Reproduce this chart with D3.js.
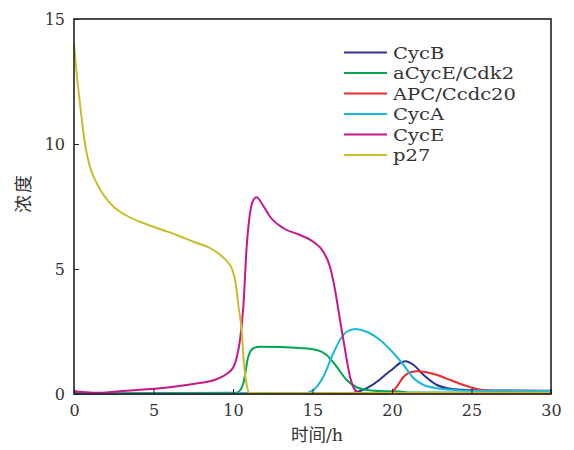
<!DOCTYPE html>
<html>
<head>
<meta charset="utf-8">
<script src="https://cdn.jsdelivr.net/npm/d3@7"></script>
<style>
  html, body { margin: 0; padding: 0; background: #fff; }
  svg { display: block; }
</style>
</head>
<body>
<svg id="chart" width="574" height="450"></svg>
<script>
// Series: [time (h), concentration]
const cycB = [[0,0.01],[17.3,0.02],[17.9,0.1],[18.41,0.23],[19.24,0.58],[19.6,0.78],[20.1,1.03],[20.5,1.24],[20.85,1.31],[21.36,1.16],[21.99,0.76],[22.83,0.36],[23.67,0.21],[24.72,0.16],[27,0.14],[30,0.13]];
const aCycECdk2 = [[0,0.02],[10.2,0.05],[10.45,0.15],[10.65,0.43],[10.96,1.49],[11.28,1.83],[11.7,1.89],[13,1.88],[14.2,1.84],[15.26,1.76],[15.89,1.56],[16.52,1.09],[17.15,0.56],[17.78,0.27],[18.41,0.16],[19.25,0.12],[20.5,0.1],[21,0.06],[30,0.05]];
const apcCdc20 = [[0,0.12],[0.5,0.05],[1,0.01],[19.8,0.01],[19.95,0.06],[20.3,0.29],[20.73,0.69],[21.15,0.87],[21.6,0.91],[21.99,0.89],[22.83,0.76],[23.67,0.56],[24.5,0.36],[25.34,0.2],[26.2,0.12],[27,0.09],[30,0.08]];
const cycA = [[0,0.01],[14.4,0.02],[15.05,0.16],[15.68,0.69],[16.31,1.63],[16.73,2.16],[17.15,2.49],[17.68,2.6],[18.41,2.49],[19.24,2.16],[20.1,1.63],[20.73,1.16],[21.36,0.63],[21.99,0.36],[22.83,0.23],[23.88,0.16],[25,0.13],[30,0.12]];
const cycE = [[0,0.1],[0.5,0.08],[1.5,0.05],[3.3,0.13],[5.4,0.23],[7.5,0.4],[9,0.6],[9.6,0.8],[10.04,1.09],[10.25,1.5],[10.44,2.16],[10.65,3.49],[10.86,5.89],[11.07,7.23],[11.28,7.76],[11.49,7.87],[11.8,7.63],[12.33,7.09],[13.17,6.63],[14.22,6.36],[15.05,6.09],[15.68,5.69],[16.1,5.09],[16.42,4.16],[16.73,2.96],[17.05,1.76],[17.36,0.69],[17.68,0.16],[18,0.04],[30,0.02]];
const p27 = [[0,14],[0.17,12.8],[0.38,11.6],[0.69,10.0],[1.0,9.09],[1.43,8.43],[1.86,7.96],[2.49,7.49],[3.33,7.13],[4.38,6.83],[5.43,6.59],[6.46,6.36],[7.52,6.09],[8.57,5.83],[9.0,5.66],[9.4,5.45],[9.7,5.25],[9.94,5.0],[10.15,4.5],[10.35,3.49],[10.56,2.43],[10.67,1.36],[10.8,0.6],[10.9,0.25],[11,0.05],[12,0.03],[30,0.05]];

const seriesNames = ["CycB", "aCycE/Cdk2", "APC/Ccdc20", "CycA", "CycE", "p27"];
const seriesData = [cycB, aCycECdk2, apcCdc20, cycA, cycE, p27];
const seriesColors = ["#2e3192", "#00a651", "#ee2a2a", "#1ab8dc", "#c7178c", "#c8bd2a"];

const xTicks = [0, 5, 10, 15, 20, 25, 30];
const yTicks = [0, 5, 10, 15];
const xTitleParts = [["时间", "cjk"], ["/h", "serif"]];
const yTitle = "浓度";

const svg = d3.select("#chart");
const margin = { left: 74, right: 23, top: 19, bottom: 56 };
const W = 574, H = 450;

const x = d3.scaleLinear().domain([0, 30]).range([margin.left, W - margin.right]);
const y = d3.scaleLinear().domain([0, 15]).range([H - margin.bottom, margin.top]);

const serif = "'DejaVu Serif', 'Liberation Serif', serif";
const cjk = "'Noto Sans CJK SC', sans-serif";

// curves
const line = d3.line()
  .x(d => x(d[0]))
  .y(d => y(d[1]))
  .curve(d3.curveMonotoneX);

const plot = svg.append("g");
seriesData.forEach((data, i) => {
  plot.append("path")
    .datum(data)
    .attr("fill", "none")
    .attr("stroke", seriesColors[i])
    .attr("stroke-width", 2)
    .attr("stroke-linejoin", "round")
    .attr("d", line);
});

// axes with inward ticks
const axisColor = "#222";
const xAxis = svg.append("g")
  .attr("transform", `translate(0,${y(0)})`)
  .call(d3.axisBottom(x).tickValues(xTicks).tickSizeInner(-5).tickSizeOuter(0).tickPadding(11));
const yAxis = svg.append("g")
  .attr("transform", `translate(${x(0)},0)`)
  .call(d3.axisLeft(y).tickValues(yTicks).tickSizeInner(-5).tickSizeOuter(0).tickPadding(9));

[xAxis, yAxis].forEach(g => {
  g.select(".domain").remove();
  g.selectAll(".tick line").attr("stroke", axisColor).attr("stroke-width", 1);
  g.selectAll(".tick text")
    .attr("fill", "#333")
    .style("font-family", serif)
    .style("font-size", "16px");
});
yAxis.selectAll(".tick text").attr("dy", "0.36em");

// frame
svg.append("rect")
  .attr("x", x(0)).attr("y", y(15))
  .attr("width", x(30) - x(0)).attr("height", y(0) - y(15))
  .attr("fill", "none")
  .attr("stroke", axisColor)
  .attr("stroke-width", 1.6);

// axis titles
const xt = svg.append("text")
  .attr("x", 317).attr("y", 441)
  .attr("text-anchor", "middle")
  .attr("fill", "#333")
  .style("font-size", "17.5px");
xTitleParts.forEach(([s, kind]) => {
  xt.append("tspan")
    .style("font-family", kind === "cjk" ? cjk : serif)
    .text(s);
});

svg.append("text")
  .attr("transform", "translate(30,193) rotate(-90)")
  .attr("text-anchor", "middle")
  .attr("fill", "#333")
  .style("font-family", cjk)
  .style("font-size", "18px")
  .style("letter-spacing", "2px")
  .text(yTitle);

// legend
const legend = svg.append("g").attr("transform", "translate(344,52.5)");
seriesNames.forEach((name, i) => {
  const row = legend.append("g").attr("transform", `translate(0,${i * 20.5})`);
  row.append("line")
    .attr("x1", 0).attr("x2", 43)
    .attr("y1", 0).attr("y2", 0)
    .attr("stroke", seriesColors[i])
    .attr("stroke-width", 2);
  row.append("text")
    .attr("transform", "translate(49,0) scale(1.15,1)")
    .attr("dy", "0.36em")
    .attr("fill", "#333")
    .style("font-family", serif)
    .style("font-size", "17px")
    .text(name);
});
</script>
</body>
</html>
